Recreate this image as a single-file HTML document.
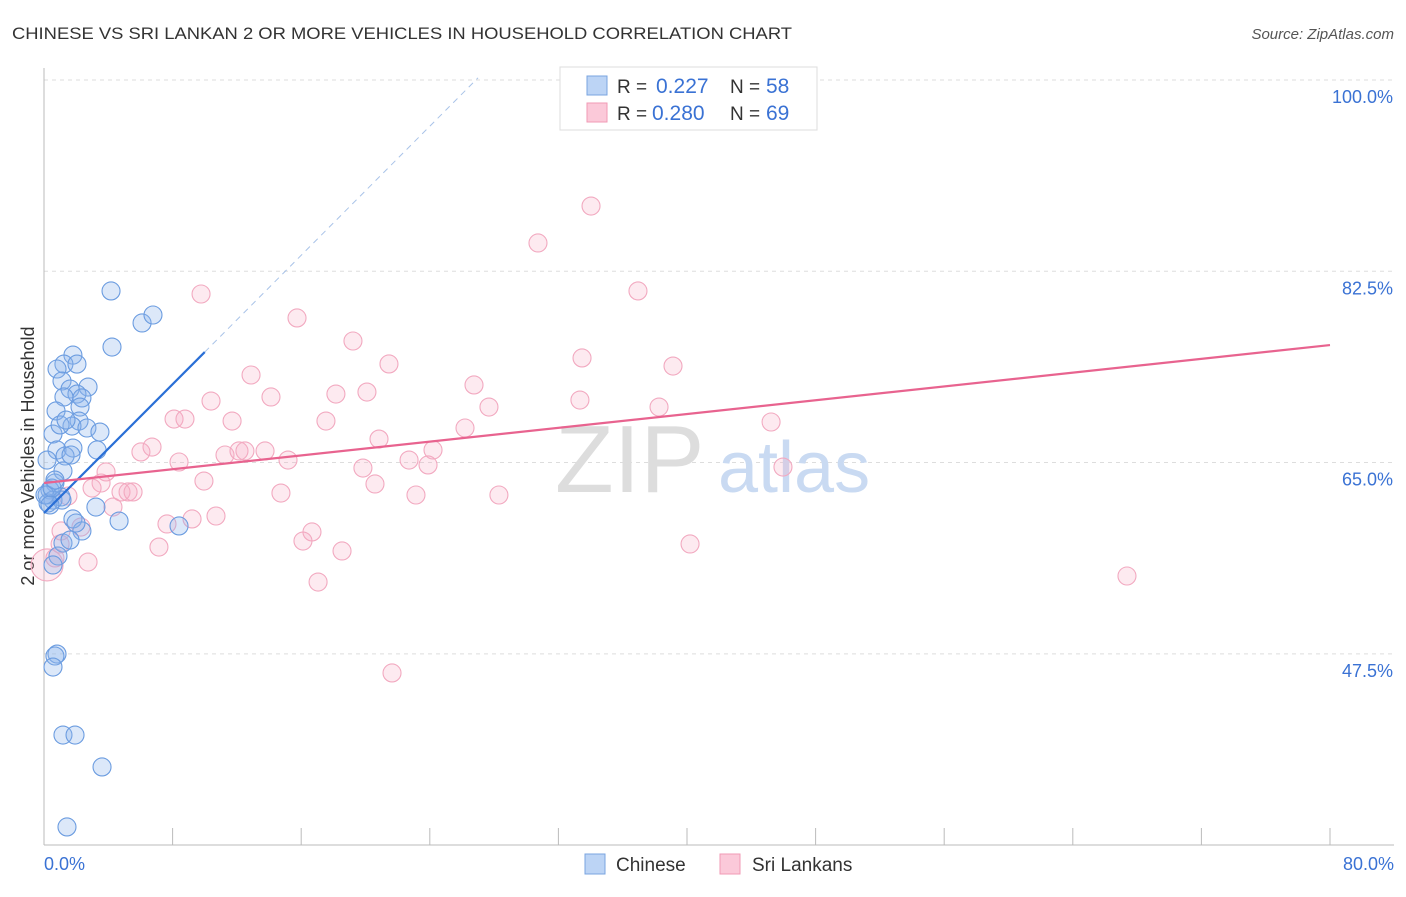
<!DOCTYPE html>
<html><head><meta charset="utf-8"><style>
body{margin:0;background:#fff;font-family:"Liberation Sans",sans-serif}
svg text{font-family:"Liberation Sans",sans-serif}
</style></head><body>
<svg id="chart" width="1406" height="892" xmlns="http://www.w3.org/2000/svg">
<text x="12" y="39" font-size="17" fill="#333" textLength="780" lengthAdjust="spacingAndGlyphs">CHINESE VS SRI LANKAN 2 OR MORE VEHICLES IN HOUSEHOLD CORRELATION CHART</text>
<text x="1394" y="39" font-size="15" fill="#555" font-style="italic" text-anchor="end">Source: ZipAtlas.com</text>
<g id="grid"></g>
<text x="555" y="492" font-size="96" fill="#ddd" font-family="Liberation Serif">ZIP</text>
<text x="718" y="492" font-size="72" fill="#c9daf2">atlas</text>
<line x1="44" y1="68" x2="44" y2="845" stroke="#bbb"/>
<line x1="44" y1="845" x2="1394" y2="845" stroke="#bbb"/>
<g id="xticks"></g>
<g id="ylabels"></g>
<text x="44" y="870" font-size="18" fill="#3a72d4">0.0%</text>
<text x="1394" y="870" font-size="18" fill="#3a72d4" text-anchor="end">80.0%</text>
<text transform="translate(34,456) rotate(-90)" font-size="18" fill="#333" text-anchor="middle">2 or more Vehicles in Household</text>
<g id="pink"></g>
<g id="blue"></g>
<g id="lines"></g>
<g>
<rect x="560" y="67" width="257" height="63" fill="#fff" stroke="#ddd"/>
<rect x="587" y="76" width="20" height="19" fill="#bcd4f5" stroke="#7aa4e0"/>
<rect x="587" y="103" width="20" height="19" fill="#fbc9d9" stroke="#f09ab5"/>
<text x="617" y="93" font-size="19" fill="#333">R =</text>
<text x="656" y="93" font-size="21" fill="#3a72d4">0.227</text>
<text x="730" y="93" font-size="19" fill="#333">N =</text>
<text x="766" y="93" font-size="21" fill="#3a72d4">58</text>
<text x="617" y="120" font-size="19" fill="#333">R =</text>
<text x="652" y="120" font-size="21" fill="#3a72d4">0.280</text>
<text x="730" y="120" font-size="19" fill="#333">N =</text>
<text x="766" y="120" font-size="21" fill="#3a72d4">69</text>
</g>
<g>
<rect x="585" y="854" width="20" height="20" fill="#bcd4f5" stroke="#7aa4e0"/>
<text x="616" y="871" font-size="19" fill="#333">Chinese</text>
<rect x="720" y="854" width="20" height="20" fill="#fbc9d9" stroke="#f09ab5"/>
<text x="752" y="871" font-size="19" fill="#333">Sri Lankans</text>
</g>
</svg>
<script>
const yTicks=[100,82.5,65,47.5];
const yTickLabels=["100.0%","82.5%","65.0%","47.5%"];
const xTicks=[8,16,24,32,40,48,56,64,72,80];
const chineseX=[4.17,6.10,6.78,4.23,1.80,1.24,2.05,0.81,1.12,2.74,1.62,2.05,1.24,2.36,2.24,0.75,2.18,1.74,2.67,0.56,3.48,0.81,1.80,3.30,1.31,1.68,0.19,1.18,0.68,0.37,0.19,1.06,0.56,0.25,3.23,1.80,4.67,8.40,2.36,1.18,0.87,0.56,0.81,0.68,0.56,1.18,1.93,3.61,1.43,1.12,0.06,0.50,0.68,1.00,1.37,1.99,1.62,0.37];
const chineseY=[80.70,77.77,78.50,75.57,74.83,74.01,74.01,73.56,72.46,71.91,71.73,71.27,71.00,70.91,70.08,69.72,68.80,68.34,68.16,67.61,67.79,66.15,66.33,66.15,65.60,65.69,65.23,64.23,63.13,62.49,62.03,61.85,61.57,61.30,60.93,59.84,59.65,59.20,58.74,57.64,56.45,55.63,47.48,47.30,46.29,40.07,40.07,37.15,31.66,61.57,62.03,62.67,63.40,68.44,68.89,59.47,57.91,61.12];
const lankanX=[34.03,30.73,9.77,36.95,15.74,19.22,33.47,21.46,39.13,12.88,26.75,18.16,20.09,14.12,10.39,27.68,33.34,38.26,8.09,8.77,11.70,17.54,45.23,26.19,20.84,6.72,6.03,11.26,12.13,12.50,13.75,15.18,8.40,22.71,24.20,23.89,19.84,45.97,3.86,9.95,3.55,2.99,4.79,5.23,5.54,14.74,23.14,28.30,20.59,1.49,4.29,10.70,9.21,7.65,2.30,1.06,16.67,16.11,7.15,18.54,40.19,1.00,2.74,17.05,67.37,21.65,0.19,0.68];
const lankanY=[88.47,85.09,80.42,80.70,78.23,76.12,74.57,74.02,73.83,73.01,72.10,71.27,71.45,71.00,70.63,70.08,70.72,70.08,68.98,68.98,68.80,68.80,68.71,68.16,67.15,66.42,65.97,65.69,66.06,66.06,66.06,65.23,65.05,65.23,66.15,64.78,64.50,64.59,64.14,63.31,63.13,62.67,62.31,62.31,62.31,62.21,62.03,62.03,63.04,61.94,60.93,60.11,59.84,59.38,59.10,58.74,58.65,57.82,57.27,56.91,57.55,57.55,55.90,54.07,54.62,45.75,55.63,56.27];
const chineseTrend=[[0,60.38],[10,75.11]];
const chineseTrendExt=[[10,75.11],[27,100.2]];
const lankanTrend=[[0,63.13],[80,75.75]];
const NS="http://www.w3.org/2000/svg";
const xs=v=>44+v*16.075, ys=v=>80+(100-v)*10.93;
function mk(tag,attrs,parent){const e=document.createElementNS(NS,tag);for(const k in attrs)e.setAttribute(k,attrs[k]);parent.appendChild(e);return e;}
const grid=document.getElementById('grid'),yl=document.getElementById('ylabels'),xt=document.getElementById('xticks');
yTicks.forEach((t,i)=>{
 const l=mk('line',{x1:44,x2:1394,y1:ys(t),y2:ys(t),stroke:'#ddd','stroke-dasharray':'4,4'},grid);
 
 
 const tx=mk('text',{x:1393,y:ys(t)+23,'font-size':18,fill:'#3a72d4','text-anchor':'end'},yl);
 tx.textContent=yTickLabels[i];
 
 
});
xTicks.forEach(t=>{
 const l=mk('line',{x1:xs(t),x2:xs(t),y1:828,y2:845,stroke:'#bbb'},xt);
 
 
});
const pg=document.getElementById('pink');
lankanX.forEach((x,i)=>{
 const r=(i===lankanX.length-2)?16:9;
 const c=mk('circle',{cx:xs(x),cy:ys(lankanY[i]),r:r,fill:'rgba(248,170,195,0.25)',stroke:'#f2a9c0','stroke-width':1.1},pg);
 
 
});
const bg=document.getElementById('blue');
chineseX.forEach((x,i)=>{
 const c=mk('circle',{cx:xs(x),cy:ys(chineseY[i]),r:9,fill:'rgba(140,180,235,0.3)',stroke:'#6b9ce0','stroke-width':1.1},bg);
 
 
});
const lg=document.getElementById('lines');
function ln(p,stroke,w,dash){const l=mk('line',{x1:xs(p[0][0]),y1:ys(p[0][1]),x2:xs(p[1][0]),y2:ys(p[1][1]),stroke:stroke,'stroke-width':w},lg);if(dash)l.setAttribute('stroke-dasharray',dash);return l;}
const a=ln(chineseTrendExt,'#a9c3e8',1,'6,5');


const b=ln(chineseTrend,'#2a6fd6',2.2);


const c=ln(lankanTrend,'#e8638f',2.2);


</script>
</body></html>
